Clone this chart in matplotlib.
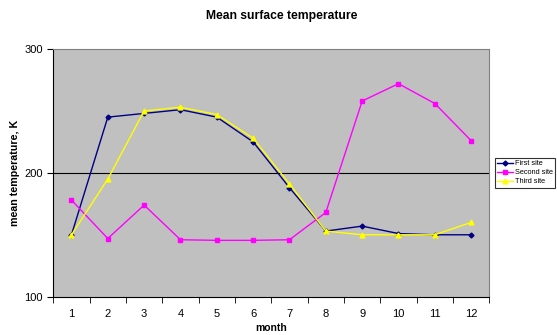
import matplotlib.pyplot as plt
import numpy as np
from matplotlib.ticker import FixedLocator, NullFormatter

plt.rcParams['font.family'] = ['Liberation Sans', 'DejaVu Sans']

months = [1, 2, 3, 4, 5, 6, 7, 8, 9, 10, 11, 12]
first_site = [150, 245, 248, 251, 245, 225, 188, 153, 157, 151, 150, 150]
second_site = [178, 147, 174, 146, 145.5, 145.5, 146, 168, 258, 272, 256, 226]
third_site = [150, 195, 250, 253, 247, 228, 191, 153, 150, 150, 150, 160]

fig = plt.figure(figsize=(5.57, 3.35), dpi=100)
ax = fig.add_axes([0.0957, 0.1143, 0.7828, 0.7394])
ax.set_facecolor('#c0c0c0')

x = np.arange(1, len(months) + 1)
ax.plot(x, first_site, color='#000080', marker='D', markersize=2.5, lw=1, label='First site')
ax.plot(x, second_site, color='#ff00ff', marker='s', markersize=3.2, lw=1, label='Second site')
ax.plot(x, third_site, color='#ffff00', marker='^', markersize=3.5, lw=1, label='Third site')

ax.set_xlim(0.5, 12.5)
ax.set_ylim(100, 300)
ax.set_yticks([100, 200, 300])
ax.axhline(200, color='black', lw=0.8, zorder=1)

ax.set_xticks(x)
ax.set_xticklabels([str(m) for m in months])
ax.xaxis.set_minor_locator(FixedLocator(np.arange(0.5, 13, 1)))
ax.xaxis.set_minor_formatter(NullFormatter())
ax.tick_params(axis='x', which='major', length=0, pad=9, labelsize=8)
ax.tick_params(axis='x', which='minor', length=4, direction='out')
ax.tick_params(axis='y', length=4, direction='out', labelsize=8)

ax.spines['top'].set_color('#808080')
ax.spines['right'].set_color('#808080')

fig.suptitle('Mean surface temperature', x=0.505, y=0.97, fontsize=8.7, fontweight='bold')
ax.set_xlabel('month', fontsize=7.5, fontweight='bold', labelpad=3)
ax.set_ylabel('mean temperature, K', fontsize=7.7, fontweight='bold', labelpad=3)

leg = ax.legend(loc='center left', bbox_to_anchor=(1.012, 0.5), fontsize=5.3,
                frameon=True, fancybox=False, edgecolor='black', borderpad=0.3,
                handlelength=2.2, handletextpad=0.3, labelspacing=0.25,
                borderaxespad=0)
leg.get_frame().set_linewidth(0.8)

fig.savefig('out.png', dpi=100)
